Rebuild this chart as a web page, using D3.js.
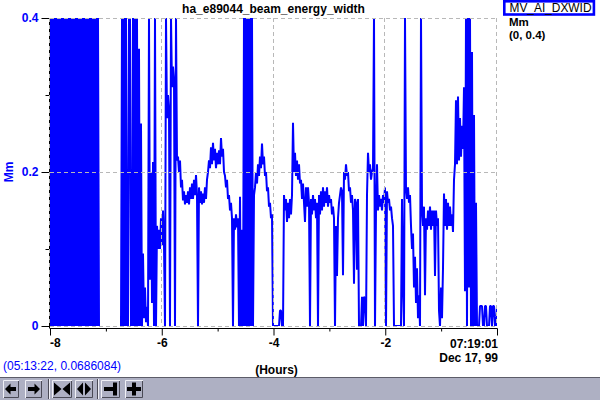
<!DOCTYPE html>
<html><head><meta charset="utf-8">
<script src="https://cdn.jsdelivr.net/npm/d3@7"></script>
<style>
body{margin:0;background:#fff;}
svg{display:block;font-family:"Liberation Sans",Arial,Helvetica,sans-serif;}
</style>
</head><body>
<svg id="chart" width="600" height="400"></svg>
<script>
// ---- chart content ----
const title = "ha_e89044_beam_energy_width";
const seriesName = "MV_AI_DXWID";
const unitsLabel = "Mm";
const rangeLabel = "(0, 0.4)";
const xAxisTitle = "(Hours)";
const cursorReadout = "(05:13:22, 0.0686084)";
const endTimeLabels = ["07:19:01", "Dec 17, 99"];
const xDomain = [-8, 0];
const yDomain = [0, 0.4];
const xMajorTicks = [-8, -6, -4, -2];
const xMinorTicks = [-7, -5, -3, -1];
const yMajorTicks = [0, 0.2, 0.4];
const yMinorTicks = [0.1, 0.3];
const yTickLabels = ["0", "0.2", "0.4"];
const xTickLabels = ["-8", "-6", "-4", "-2"];
// one sample every 8/447 h starting at -8 h (null = no data)
const sampleStepHours = 8 / 447;
const N = null;
const values = [
0.4,0,0.4,0,0.4,0,0.4,0,0.4,0,
0.4,0,0.4,0,0.4,0,0.4,0,0.4,0,
0.4,0,0.4,0,0.4,0,0.4,0,0.4,0,
0.4,0,0.4,0,0.4,0,0.4,0,0.4,0,
0.4,0,0.4,0,0.4,0,0.4,0,0.4,0,
N,N,N,N,N,N,N,N,N,N,
N,N,N,N,N,N,N,N,N,N,
N,0,0.4,0,0.4,0,0.4,0,0,0.4,
0.4,0,0,0.4,0,0.4,0,0.4,0,0.36,
0,0.263,0,0.094,0.01,0.05,0.005,0.025,0,0.4,
0.06,0.2,0.03,0.213,0,0.4,0,0.13,0.1,0.125,
0.1,0.14,0.105,0.15,0.105,0,0.4,0.27,0.3,0.28,
0,0.4,0.31,0.337,0.32,0,0.4,0.215,0.22,0.2,
0.215,0.18,0.19,0.163,0.175,0.158,0.17,0.16,0.175,0.158,
0.18,0.165,0.185,0.165,0.19,0.17,0.196,0.17,0,0.18,
0.16,0.175,0.158,0.172,0.16,0.18,0.165,0.19,0.2,0.215,
0.205,0.232,0.21,0.238,0.215,0.23,0.205,0.225,0.21,0.228,
0.21,0.244,0.22,0.23,0.2,0.195,0.18,0.19,0.165,0.17,
0.15,0.16,0.14,0,0.14,0.125,0.145,0.128,0.14,0,
0.168,0,0.125,0,0.4,0,0.4,0,0.4,0,
0.4,0,0.4,0,0.17,0.18,0.2,0.185,0.21,0.195,
0.22,0.205,0.237,0.21,0.22,0.195,0.2,0.175,0.18,0.155,
0.16,0.14,0.145,0,0,0,0,0,0,0,
0.02,0.02,0,0,0.17,0.15,0.165,0.135,0.16,0.14,
0.165,0.145,0.17,0.264,0.2,0.225,0.195,0.215,0.19,0.21,
0.185,0.19,0.165,0.185,0.16,0.135,0.18,0.155,0.18,0.16,
0,0.165,0.145,0.17,0.15,0.165,0.14,0.16,0,0.17,
0.145,0.175,0.15,0.18,0.155,0.175,0.16,0.18,0.155,0.17,
0.16,0.165,0.145,0.155,0.14,0,0.13,0.065,0.14,0.16,
0.17,0.18,0.175,0.066,0.2,0.19,0.21,0.195,0.2,0.175,
0.18,0.16,0.17,0.15,0.055,0.165,0.16,0.073,0.165,0,
0,0,0.038,0,0.038,0.035,0,0.17,0.225,0.2,
0.21,0.19,0.2,0.205,0.4,0,0.15,0.21,0.15,0.17,
0.155,0.165,0.15,0.17,0.16,0.18,0,0.175,0.16,0.165,
0.15,0.155,0.14,0.13,0,0,0,0,0,0,
0,0,0.165,0.05,0,0.4,0.18,0.165,0.18,0.16,
0.17,0.13,0.1,0.12,0.05,0.09,0.03,0.075,0.01,0.04,
0,0.4,0.15,0.13,0.155,0.04,0.14,0.125,0.15,0.13,
0.155,0.125,0.15,0.13,0.15,0.065,0.15,0.13,0.14,0.02,
0,0.05,0.01,0.075,0.172,0.13,0.165,0.125,0.16,0.13,
0.155,0.13,0.145,0.122,0.19,0.21,0.293,0.21,0.298,0.215,
0.27,0.22,0.26,0.23,0.31,0.045,0.4,0,0.4,0.05,
0.4,0,0.356,0,0.274,0,0.16,0,0,0,
0.026,0.026,0.026,0,0,0.026,0.026,0,0,0,
0.026,0.026,0,0.026,0.026,0,0,0.026
];

// ---- drawing ----
const svg = d3.select("#chart");
const blue = "#0000ff";
const gridColor = "#b8b8b8";
const plot = {left: 50, right: 497, top: 18, bottom: 326};

const x = d3.scaleLinear().domain(xDomain).range([plot.left, plot.right]);
const y = d3.scaleLinear().domain(yDomain).range([plot.bottom, plot.top]);

const data = values.map((v, i) => ({t: xDomain[0] + i * sampleStepHours, v}));

svg.append("defs").append("clipPath").attr("id", "clip")
  .append("rect").attr("x", plot.left).attr("y", plot.top)
  .attr("width", plot.right - plot.left).attr("height", plot.bottom - plot.top);

const line = d3.line().defined(d => d.v !== null).x(d => x(d.t)).y(d => y(d.v));
svg.append("path").datum(data)
  .attr("clip-path", "url(#clip)")
  .attr("d", line)
  .attr("fill", "none").attr("stroke", blue)
  .attr("stroke-width", 2).attr("stroke-linejoin", "bevel");

// grid (drawn over data)
const grid = svg.append("g").attr("stroke", gridColor).attr("stroke-width", 1)
  .attr("stroke-dasharray", "4,3").attr("fill", "none");
yMajorTicks.forEach(v => {
  grid.append("line").attr("x1", plot.left).attr("x2", plot.right)
    .attr("y1", Math.round(y(v)) + 0.5).attr("y2", Math.round(y(v)) + 0.5);
});
[...xMajorTicks, xDomain[1]].forEach(t => {
  const xx = Math.round(x(t)) - 0.5;
  grid.append("line").attr("x1", xx).attr("x2", xx)
    .attr("y1", plot.top).attr("y2", plot.bottom);
});

// y axis
const yAxisG = svg.append("g").attr("transform", `translate(${plot.left - 0.5},0)`);
yAxisG.call(d3.axisLeft(y).tickValues(yMajorTicks).tickSize(8)
  .tickFormat((d, i) => yTickLabels[i]).tickPadding(3));
const yMinorG = svg.append("g").attr("transform", `translate(${plot.left - 0.5},0)`);
yMinorG.call(d3.axisLeft(y).tickValues(yMinorTicks).tickSize(4).tickFormat(""));
yMinorG.select(".domain").remove();
[yAxisG, yMinorG].forEach(g => {
  g.select(".domain").attr("stroke", "#000").attr("d", `M0,${plot.top}V${plot.bottom + 2}`);
  g.selectAll(".tick line").attr("stroke", "#000");
});
yAxisG.selectAll(".tick text").attr("fill", blue)
  .attr("font-size", 12).attr("font-weight", "bold")
  .attr("font-family", "Liberation Sans, Arial, sans-serif");
// dashed grid over the axis line
svg.append("line").attr("x1", plot.left - 0.5).attr("x2", plot.left - 0.5)
  .attr("y1", plot.top).attr("y2", plot.bottom)
  .attr("stroke", gridColor).attr("stroke-dasharray", "4,3");

// x axis
const xAxisY = plot.bottom + 2.5;
const xAxisG = svg.append("g").attr("transform", `translate(0,${xAxisY})`);
xAxisG.call(d3.axisBottom(x).tickValues([...xMajorTicks, xDomain[1]]).tickSize(7)
  .tickFormat((d, i) => i < xTickLabels.length ? xTickLabels[i] : "").tickPadding(3));
const xMinorG = svg.append("g").attr("transform", `translate(0,${xAxisY})`);
xMinorG.call(d3.axisBottom(x).tickValues(xMinorTicks).tickSize(3).tickFormat(""));
xMinorG.select(".domain").remove();
xAxisG.select(".domain").attr("d", `M${plot.left - 0.5},0H${plot.right + 0.5}`).attr("stroke", "#000");
[xAxisG, xMinorG].forEach(g => g.selectAll(".tick line").attr("stroke", "#000"));
xAxisG.selectAll(".tick text").attr("fill", "#000")
  .attr("font-size", 12).attr("font-weight", "bold")
  .attr("font-family", "Liberation Sans, Arial, sans-serif")
  .attr("text-anchor", (d, i) => i === 0 ? "start" : "middle")
  .attr("dx", (d, i) => i === 0 ? -0.5 : 0);

// end time label
svg.append("text").attr("x", plot.right + 1).attr("y", 347.5)
  .attr("text-anchor", "end").attr("font-size", 12).attr("font-weight", "bold")
  .text(endTimeLabels[0]);
svg.append("text").attr("x", plot.right + 1).attr("y", 362)
  .attr("text-anchor", "end").attr("font-size", 12).attr("font-weight", "bold")
  .text(endTimeLabels[1]);

// x axis title
svg.append("text").attr("x", 276.5).attr("y", 373.5)
  .attr("text-anchor", "middle").attr("font-size", 12).attr("font-weight", "bold")
  .text(xAxisTitle);

// cursor readout
svg.append("text").attr("x", 3).attr("y", 369.5)
  .attr("font-size", 12).attr("fill", blue).text(cursorReadout);

// title
svg.append("text").attr("x", 273.5).attr("y", 12.5)
  .attr("text-anchor", "middle").attr("font-size", 12).attr("font-weight", "bold")
  .text(title);

// y axis title
svg.append("text").attr("transform", "translate(13,172) rotate(-90)")
  .attr("text-anchor", "middle").attr("font-size", 12).attr("font-weight", "bold")
  .attr("fill", blue).text(unitsLabel);

// legend
svg.append("rect").attr("x", 504.3).attr("y", 1.3).attr("width", 89.6).attr("height", 13.2)
  .attr("fill", "#fff").attr("stroke", blue).attr("stroke-width", 2.6);
svg.append("text").attr("x", 509.5).attr("y", 12.3).attr("font-size", 12)
  .attr("textLength", 82).attr("lengthAdjust", "spacingAndGlyphs")
  .attr("fill", "#000").text(seriesName);
svg.append("text").attr("x", 509).attr("y", 26).attr("font-size", 11.5)
  .attr("font-weight", "bold").text(unitsLabel);
svg.append("text").attr("x", 509).attr("y", 38.5).attr("font-size", 11.5)
  .attr("font-weight", "bold").text(rangeLabel);

// toolbar
const tb = svg.append("g");
tb.append("rect").attr("x", 0).attr("y", 377).attr("width", 600).attr("height", 23).attr("fill", "#aeb0c3");
tb.append("line").attr("x1", 0).attr("x2", 600).attr("y1", 377.5).attr("y2", 377.5).attr("stroke", "#5c5c68");
const buttons = [[3,16],[25,17],[52,20],[75,18],[101,19],[125,18]];
buttons.forEach(([bx, bw]) => {
  const by = 380, bh = 18;
  tb.append("path").attr("d", `M${bx+0.5},${by+bh}V${by+0.5}H${bx+bw}`).attr("stroke", "#f0f0f6").attr("fill", "none");
  tb.append("path").attr("d", `M${bx+bw-0.5},${by+1}V${by+bh-0.5}H${bx+1}`).attr("stroke", "#4a4a56").attr("fill", "none");
});
[48, 97].forEach(sx => {
  tb.append("line").attr("x1", sx + 0.5).attr("x2", sx + 0.5).attr("y1", 379).attr("y2", 399).attr("stroke", "#4a4a56");
  tb.append("line").attr("x1", sx + 1.5).attr("x2", sx + 1.5).attr("y1", 379).attr("y2", 399).attr("stroke", "#f0f0f6");
});
const icons = [
  "M5,389L10.5,383.5V387H16V391H10.5V394.5Z",
  "M40,389L34.5,383.5V387H28V391H34.5V394.5Z",
  "M54,382.5V395.5L61.5,389Z M70,382.5V395.5L62.5,389Z",
  "M83,382.5V395.5L77,389Z M85,382.5V395.5L91,389Z",
  "M104,387H113V382.5H117V395.5H113V391H104Z",
  "M127,387H132V382.5H136V387H141V391H136V395.5H132V391H127Z"
];
icons.forEach(d => tb.append("path").attr("d", d).attr("fill", "#000"));
</script>
</body></html>
